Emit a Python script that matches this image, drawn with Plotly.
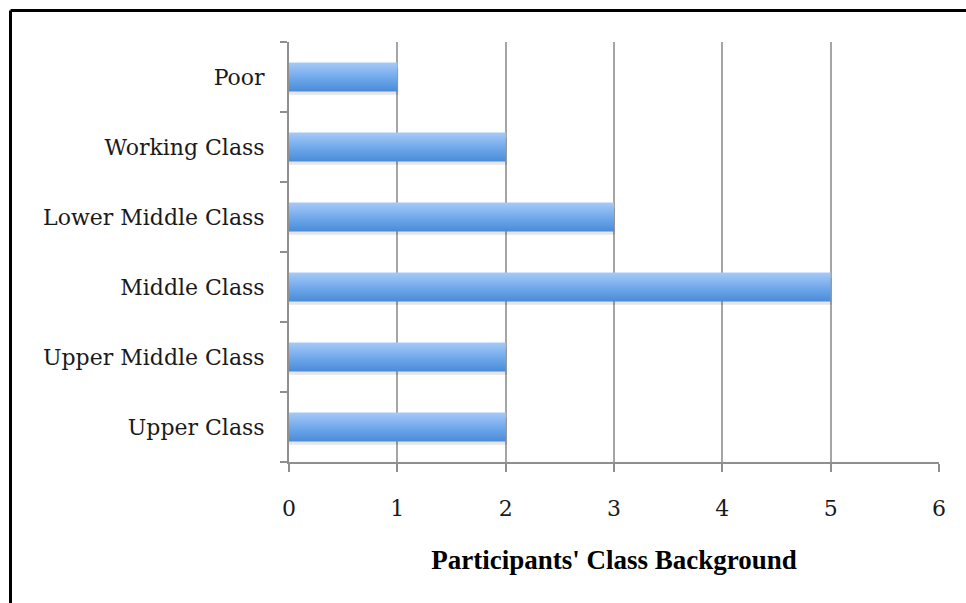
import plotly.graph_objects as go

# Survey tallies, listed top to bottom as they appear on the chart
categories = ["Poor", "Working Class", "Lower Middle Class", "Middle Class",
              "Upper Middle Class", "Upper Class"]
counts = [1, 2, 3, 5, 2, 2]
x_ticks = [0, 1, 2, 3, 4, 5, 6]
x_title = "Participants' Class Background"

W, H = 966, 603
L, R, T, B = 289, 27, 42, 141
plot_w, plot_h = W - L - R, H - T - B

n = len(categories)
# numeric row positions: first category at the top
rows = [n - 1 - i for i in range(n)]
half = 0.207  # half bar thickness in row units

grad = [[0.0, "#4a8bd7"], [0.45, "#6ea7ea"], [1.0, "#a6caf8"]]

fig = go.Figure()
for cat, val, r in zip(categories, counts, rows):
    y0, y1 = r - half, r + half
    # soft drop shadow under each bar
    fig.add_trace(go.Scatter(
        x=[0, val + 0.01, val + 0.01, 0, 0],
        y=[y0 - 0.045, y0 - 0.045, y1 - 0.08, y1 - 0.08, y0 - 0.045],
        mode="lines", line=dict(width=0), fill="toself",
        fillcolor="rgba(0,0,0,0.10)", hoverinfo="skip", showlegend=False))
    fig.add_trace(go.Scatter(
        x=[0, val, val, 0, 0],
        y=[y0, y0, y1, y1, y0],
        mode="lines", line=dict(width=0), fill="toself",
        fillgradient=dict(type="vertical", colorscale=grad, start=y0, stop=y1),
        name=cat, hoverinfo="skip", showlegend=False))

axis_gray = "#8f8f8f"
label_font = dict(family="DejaVu Serif", size=22, color="#1a1a1a")

fig.update_xaxes(
    range=[x_ticks[0], x_ticks[-1]],
    tickvals=x_ticks,
    ticks="outside", ticklen=8, tickwidth=2, tickcolor=axis_gray,
    showline=True, linecolor=axis_gray, linewidth=2,
    showgrid=True, gridcolor="#a5a5a5", gridwidth=2,
    zeroline=False,
    tickfont=dict(family="DejaVu Serif", size=22, color="#1a1a1a"),
    ticklabelstandoff=18,
    title=dict(text="<b>" + x_title + "</b>",
               font=dict(family="Liberation Serif", size=27, color="#000000"),
               standoff=30),
)
fig.update_yaxes(
    range=[-0.5, n - 0.5],
    tickvals=rows, ticktext=categories,
    ticks="", showgrid=False, zeroline=False,
    showline=True, linecolor=axis_gray, linewidth=2,
    tickfont=label_font,
    ticklabelstandoff=18,
    minor=dict(tickvals=[r + 0.5 for r in range(-1, n)], ticks="outside",
               ticklen=7, tickwidth=2, tickcolor=axis_gray, showgrid=False),
)

# black frame along the top and left edges of the figure
fx = (10.5 - L) / plot_w
fy = (H - B - 10.5) / plot_h
fig.add_shape(type="line", xref="paper", yref="paper",
              x0=fx, x1=(W - L) / plot_w + 0.01, y0=fy, y1=fy,
              line=dict(color="#000000", width=3))
fig.add_shape(type="line", xref="paper", yref="paper",
              x0=fx, x1=fx, y0=fy, y1=-(B + 5) / plot_h,
              line=dict(color="#000000", width=3))

fig.update_layout(
    width=W, height=H,
    margin=dict(l=L, r=R, t=T, b=B),
    plot_bgcolor="#ffffff", paper_bgcolor="#ffffff",
    showlegend=False,
)

fig.write_html("out.html", config={"displayModeBar": False})
